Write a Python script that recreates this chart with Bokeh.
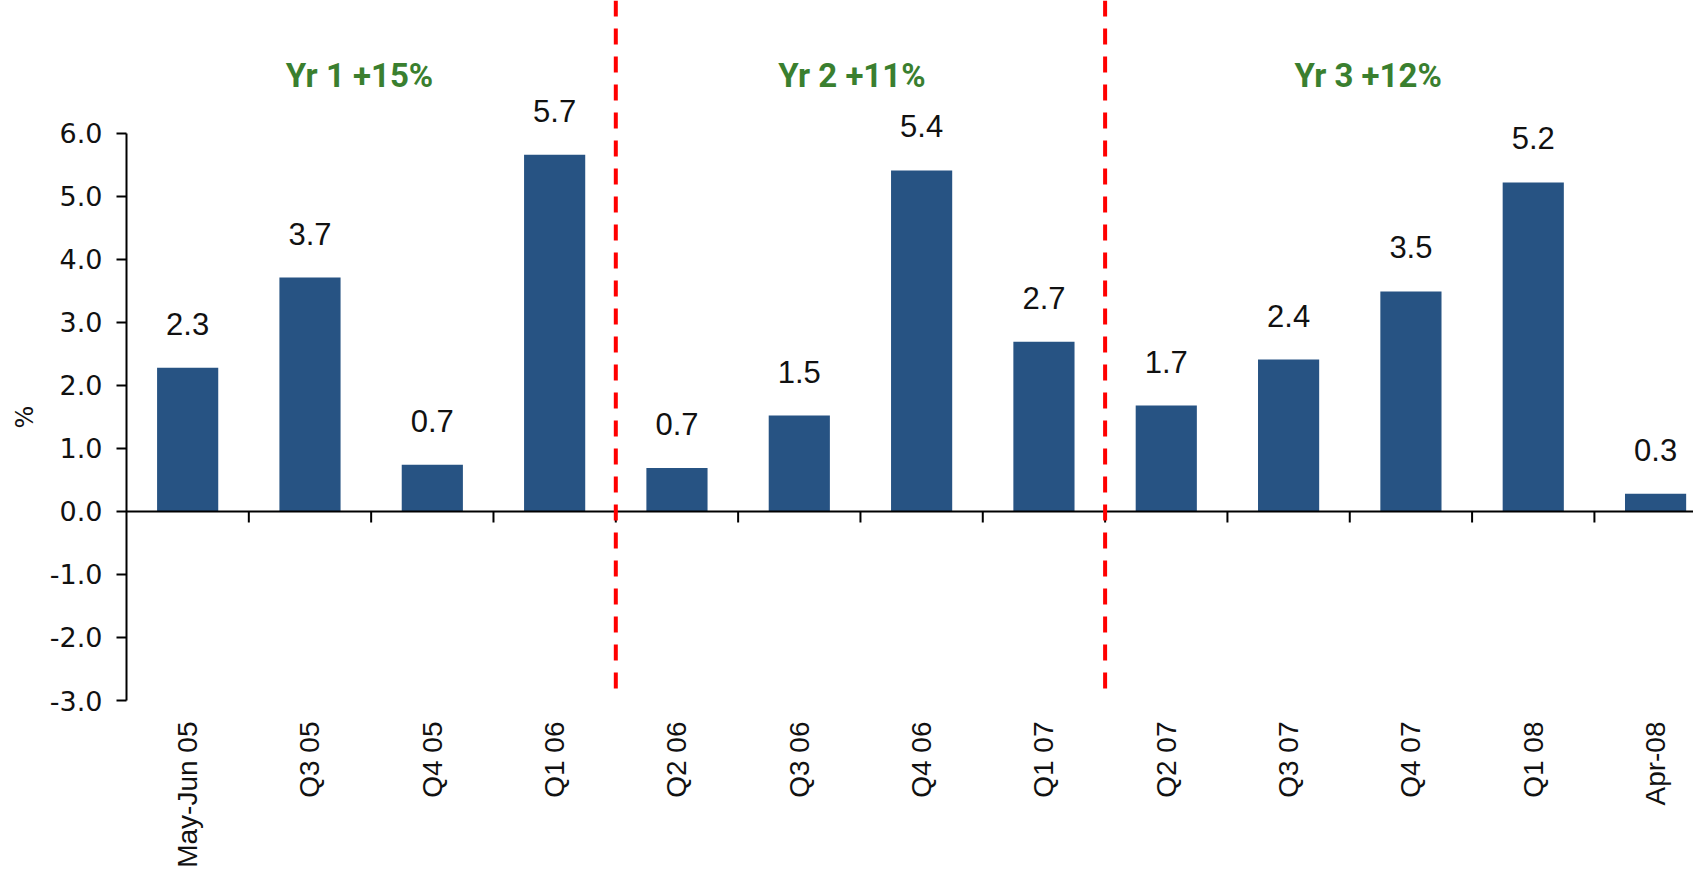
import math
from bokeh.plotting import figure
from bokeh.models import Range1d, FixedTicker, NumeralTickFormatter, Span, Title, ColumnDataSource
from bokeh.core.properties import value
from bokeh.embed import file_html
from bokeh.resources import INLINE

# ---------------- data ----------------
categories = ["May-Jun 05", "Q3 05", "Q4 05", "Q1 06", "Q2 06", "Q3 06", "Q4 06",
              "Q1 07", "Q2 07", "Q3 07", "Q4 07", "Q1 08", "Apr-08"]
growth = [2.28, 3.71, 0.74, 5.66, 0.69, 1.52, 5.41, 2.69, 1.68, 2.41, 3.49, 5.22, 0.28]
year_labels = ["Yr 1 +15%", "Yr 2 +11%", "Yr 3 +12%"]
year_end_categories = ["Q1 06", "Q1 07"]   # dashed dividers after these
y_ticks = [-3, -2, -1, 0, 1, 2, 3, 4, 5, 6]

# ---------------- layout / style ----------------
BAR_COLOR = "#275383"
GREEN = "#3a7f2f"
year_label_x = [1.405, 5.43, 9.65]
year_label_y = 6.92

idx = list(range(len(categories)))
src = ColumnDataSource(dict(x=idx, top=growth, lab=[f"{v:.1f}" for v in growth]))

p = figure(width=1693, height=872,
           x_range=Range1d(-0.5, 12.31), y_range=Range1d(-3, 8.106),
           output_backend="svg", toolbar_location=None,
           min_border_left=126, min_border_right=0, min_border_top=0, min_border_bottom=172)
p.outline_line_color = None
p.xgrid.visible = False
p.ygrid.visible = False
p.background_fill_color = "white"

# bars
p.vbar(x="x", top="top", bottom=0, width=0.5, source=src, fill_color=BAR_COLOR, line_color=None)

# value labels
p.text(x="x", y="top", text="lab", source=src, text_align="center", text_baseline="alphabetic",
       y_offset=-44, text_font=value("Liberation Sans"), text_font_size="31px", text_color="#111111")

# zero line acting as category axis
p.add_layout(Span(location=0, dimension="width", line_color="black", line_width=2))
bounds = [i + 0.5 for i in idx[:-1]]
p.ray(x=bounds, y=[0] * len(bounds), length=11, length_units="screen", angle=-math.pi / 2,
      line_color="black", line_width=2)

# year dividers
for c in year_end_categories:
    p.add_layout(Span(location=categories.index(c) + 0.5, dimension="height",
                      line_color="#ff0000", line_width=4, line_dash="16 12"))

# year labels
p.text(x=year_label_x, y=[year_label_y] * len(year_labels), text=year_labels,
       text_align="center", text_baseline="alphabetic", text_color=GREEN,
       text_font=value("Roboto"), text_font_style="bold", text_font_size="33px")

# x axis (labels at bottom)
xa = p.xaxis[0]
xa.ticker = FixedTicker(ticks=idx)
xa.major_label_overrides = {i: c for i, c in zip(idx, categories)}
xa.major_label_orientation = math.pi / 2
xa.major_tick_in = 0
xa.major_tick_out = 0
xa.minor_tick_line_color = None
xa.axis_line_color = None
xa.major_label_standoff = 21
xa.major_label_text_font = "Liberation Sans"
xa.major_label_text_font_size = "28px"
xa.major_label_text_color = "#111111"

# y axis
ya = p.yaxis[0]
ya.bounds = (-3, 6)
ya.ticker = FixedTicker(ticks=y_ticks)
ya.formatter = NumeralTickFormatter(format="0.0")
ya.major_tick_in = 0
ya.major_tick_out = 10
ya.major_tick_line_width = 2
ya.minor_tick_line_color = None
ya.axis_line_width = 2
ya.major_label_standoff = 14
ya.major_label_text_font = "DejaVu Sans"
ya.major_label_text_font_size = "27px"
ya.major_label_text_color = "#111111"

p.add_layout(Title(text="%", align="left", offset=272, standoff=15, text_font="DejaVu Sans",
                   text_font_size="24px", text_font_style="normal", text_color="#111111"), "left")

open("out.html", "w").write(file_html(p, INLINE))
